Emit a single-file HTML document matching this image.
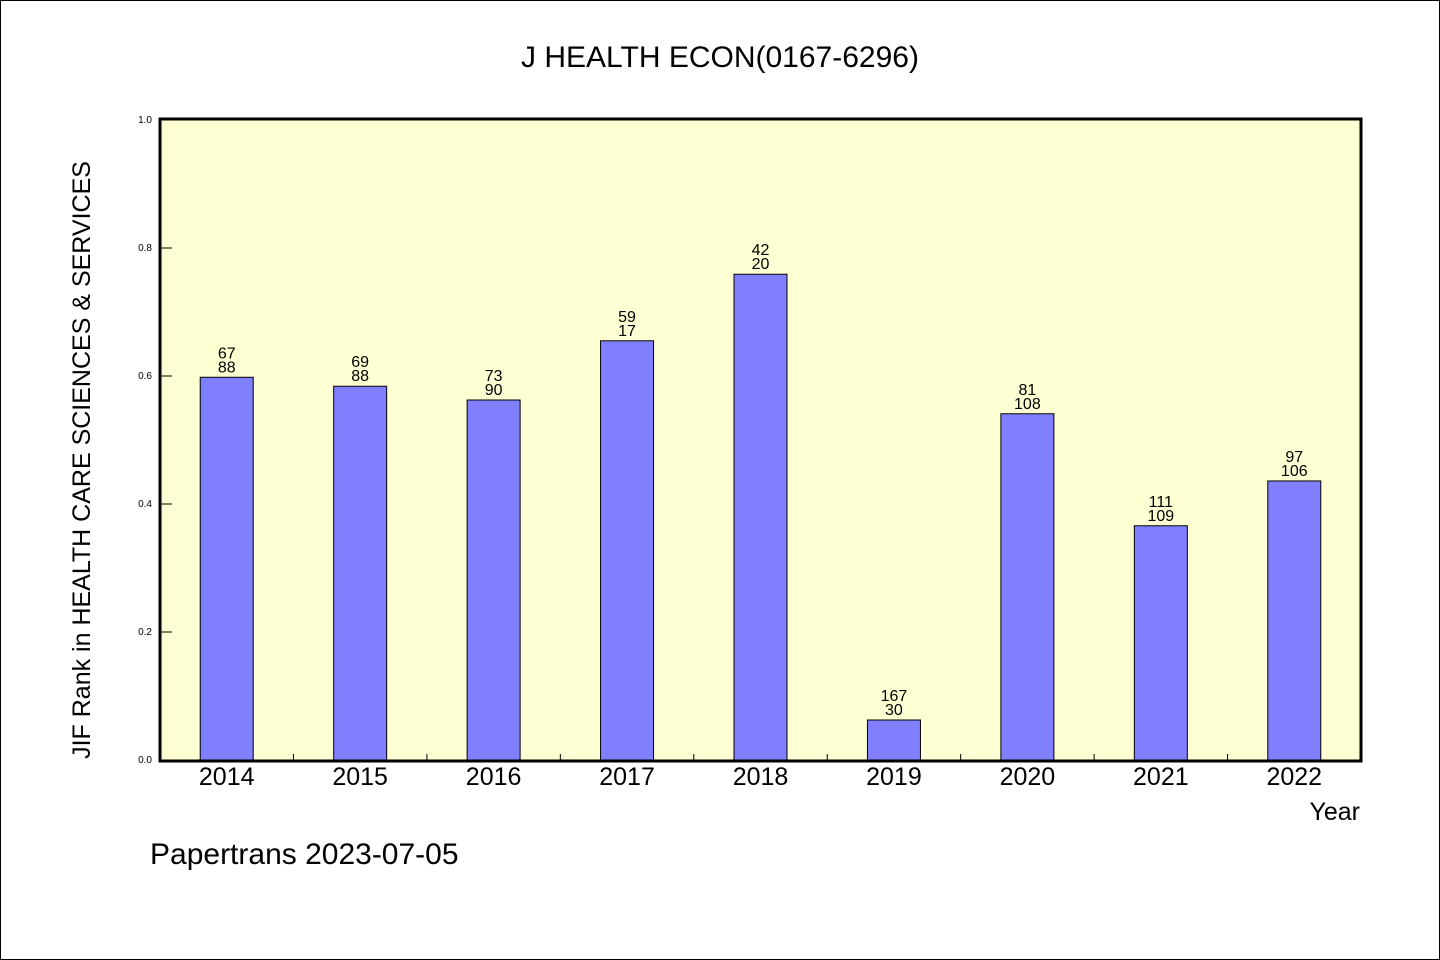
<!DOCTYPE html>
<html><head><meta charset="utf-8"><style>
html,body{margin:0;padding:0;background:#fff}
svg{display:block}
text{font-family:"WenQuanYi Zen Hei","Liberation Sans",sans-serif;fill:#000}
</style></head><body>
<svg id="chart" width="1440" height="960" viewBox="0 0 1440 960">
<rect x="0.5" y="0.5" width="1439" height="959" fill="#fff" stroke="#000" stroke-width="1"/>
<text x="720" y="67" font-size="30" text-anchor="middle">J HEALTH ECON(0167-6296)</text>
<rect x="160" y="119" width="1201" height="642" fill="#ffffd4"/>
<g id="marks"></g>
<rect x="160" y="119" width="1201" height="642" fill="none" stroke="#000" stroke-width="3"/>
<text transform="translate(90,460) rotate(-90)" font-size="25" text-anchor="middle">JIF Rank in HEALTH CARE SCIENCES &amp; SERVICES</text>
<text x="1360" y="820" font-size="25" text-anchor="end">Year</text>
<text x="150" y="864" font-size="30">Papertrans 2023-07-05</text>
</svg>
<script>
const categories = ["2014","2015","2016","2017","2018","2019","2020","2021","2022"];
const values = [0.598,0.584,0.5625,0.655,0.759,0.0625,0.541,0.366,0.436];
const rankTop = ["67","69","73","59","42","167","81","111","97"];
const rankBottom = ["88","88","90","17","20","30","108","109","106"];
const yTicks = [0,0.2,0.4,0.6,0.8,1.0];
const yTickLabels = ["0.0","0.2","0.4","0.6","0.8","1.0"];

const NS="http://www.w3.org/2000/svg";
const X0=160,X1=1361,Y0=760,Y1=120;
const band=(X1-X0)/categories.length;
const xc=i=>X0+band*(i+0.5);
const y=v=>Y0-(Y0-Y1)*v;
const g=document.getElementById('marks');
function mk(tag,attrs){const e=document.createElementNS(NS,tag);for(const k in attrs)e.setAttribute(k,attrs[k]);g.appendChild(e);return e;}

yTicks.forEach((t,i)=>{
  const yy=y(t);
  if(t>0&&t<1){const l=mk('line',{x1:X0,x2:X0+12,y1:yy,y2:yy,stroke:'#000','stroke-width':1});
  
  }
  const tx=mk('text',{x:152,y:yy+3,'font-size':10,'text-anchor':'end'});
  tx.textContent=yTickLabels[i];
  
  
});
for(let i=1;i<categories.length;i++){
  const xx=X0+band*i;
  const l=mk('line',{x1:xx,x2:xx,y1:Y0,y2:Y0-6,stroke:'#000','stroke-width':1});
  
  
}
categories.forEach((c,i)=>{
  const bw=53,top=y(values[i]);
  const r=mk('rect',{x:xc(i)-bw/2,y:top,width:bw,height:Y0-top,fill:'#8080ff',stroke:'#000','stroke-width':1});
  
  
  const a=mk('text',{x:xc(i),y:top-19,'font-size':16,'text-anchor':'middle'});
  a.textContent=rankTop[i];
  
  
  const b=mk('text',{x:xc(i),y:top-5,'font-size':16,'text-anchor':'middle'});
  b.textContent=rankBottom[i];
  
  
  const xl=mk('text',{x:xc(i),y:785,'font-size':25,'text-anchor':'middle'});
  xl.textContent=c;
  
  
});
</script>
</body></html>
